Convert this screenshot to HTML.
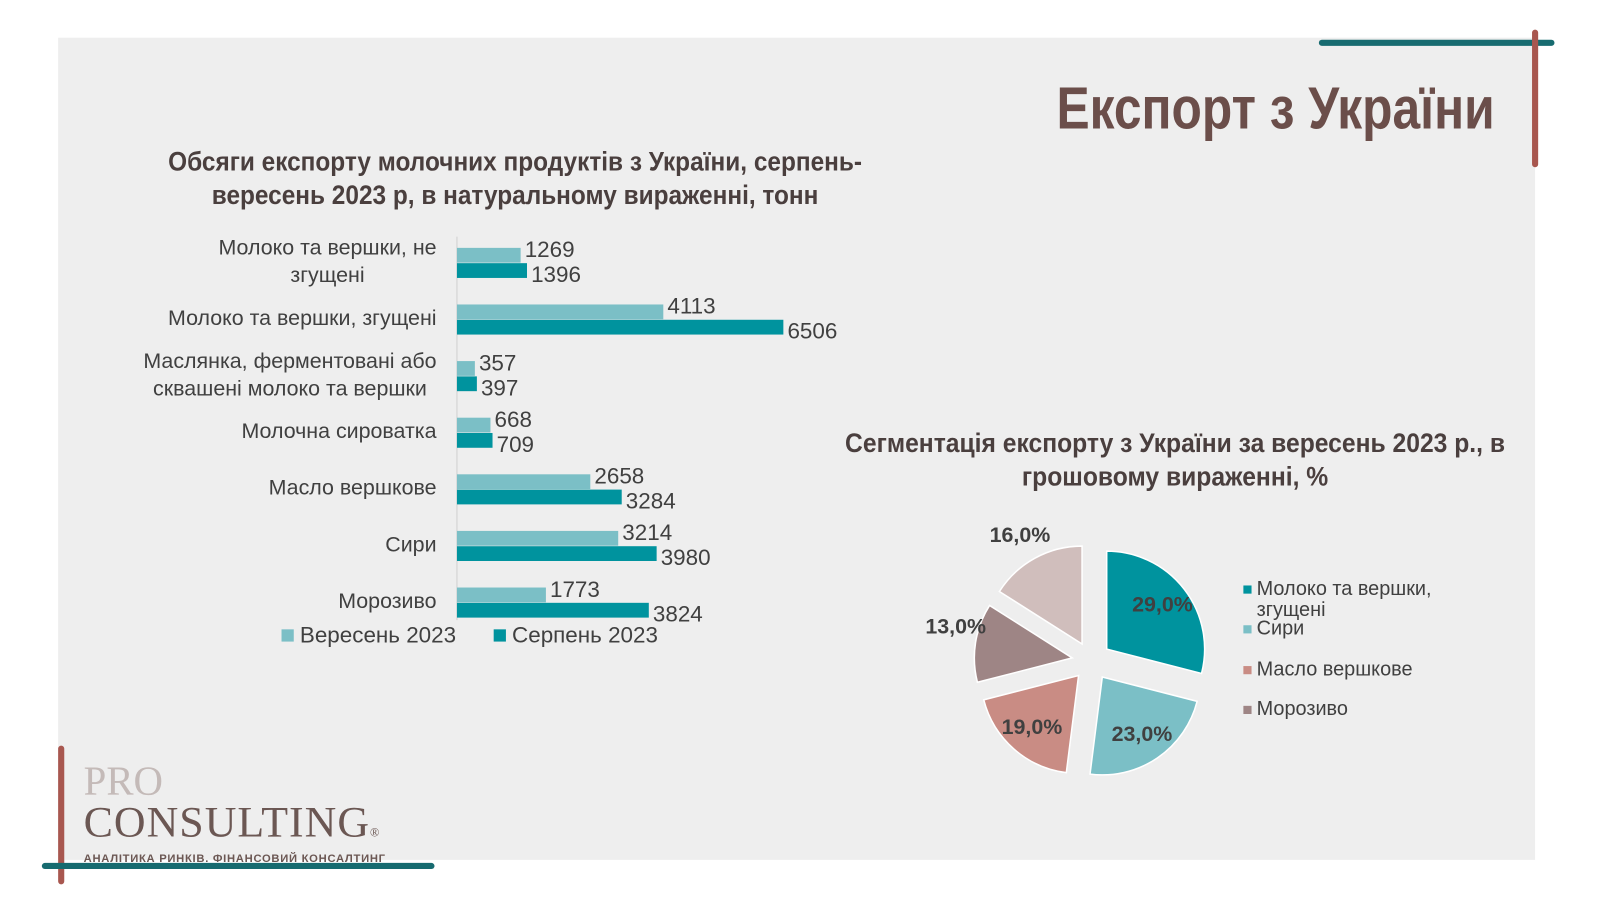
<!DOCTYPE html>
<html><head><meta charset="utf-8"><style>
body{margin:0;width:1600px;height:900px;background:#fff;position:relative;overflow:hidden;font-family:"Liberation Sans",sans-serif}
#wrap{position:absolute;left:0;top:0;width:1600px;height:900px;transform:scale(1.02);transform-origin:0 0}
.abs{position:absolute}
.cond{font-family:"Liberation Sans Narrow","Liberation Sans",sans-serif;font-weight:bold}
</style></head><body>
<div id="wrap">
<div class="abs" style="left:57px;top:37px;width:1448px;height:806px;background:#eeeeee"></div>
<div class="abs" style="left:1293px;top:39px;width:231px;height:6px;background:#176b70;border-radius:3px"></div>
<div class="abs" style="left:1502px;top:29px;width:6px;height:135px;background:#a8574f;border-radius:3px"></div>
<div class="abs" style="left:57px;top:731px;width:6px;height:136px;background:#a8574f;border-radius:3px"></div>
<div class="abs" style="left:41px;top:846px;width:385px;height:6px;background:#176b70;border-radius:3px"></div>
<div class="abs cond" style="right:135px;top:74px;font-size:58px;color:#6b4e4a;line-height:66px;transform:scaleX(0.84);transform-origin:right center;white-space:nowrap">Експорт з України</div>

<div class="abs cond" style="left:105px;top:142px;width:800px;text-align:center;font-size:26px;line-height:33px;color:#4a3f3e;transform:scaleX(0.92);transform-origin:center">Обсяги експорту молочних продуктів з України, серпень-<br>вересень 2023 р, в натуральному вираженні, тонн</div>
<div class="abs cond" style="left:802px;top:418px;width:700px;text-align:center;font-size:26px;line-height:33px;color:#4a3f3e;transform:scaleX(0.93);transform-origin:center">Сегментація експорту з України за вересень 2023 р., в<br>грошовому вираженні, %</div>

<svg class="abs" style="left:0;top:0" width="1600" height="900" id="chart"></svg>

<div class="abs" style="left:82px;top:746px">
<div style="font-family:'Liberation Serif',serif;font-size:40px;color:#c4bab8;line-height:40px">PRO</div>
<div style="font-family:'Liberation Serif',serif;font-size:43px;color:#6b5753;line-height:42px;letter-spacing:1px">CONSULTING<span style="font-size:12px">®</span></div>
<div style="font-size:11px;font-weight:bold;color:#6b5753;letter-spacing:0.7px;margin-top:-1px">АНАЛІТИКА РИНКІВ. ФІНАНСОВИЙ КОНСАЛТИНГ</div>
</div>
</div>
<script>
const categories=[["Молоко та вершки, не","згущені"],["Молоко та вершки, згущені"],["Маслянка, ферментовані або","сквашені молоко та вершки"],["Молочна сироватка"],["Масло вершкове"],["Сири"],["Морозиво"]];
const september=[1269,4113,357,668,2658,3214,1773];
const august=[1396,6506,397,709,3284,3980,3824];
const seriesNames=["Вересень 2023","Серпень 2023"];
const pieLabels=["Молоко та вершки, згущені","Сири","Масло вершкове","Морозиво","Інше"];
const pieValues=[29,23,19,13,16];

const svg=document.getElementById('chart');
const NS='http://www.w3.org/2000/svg';
function mk(tag,attrs,txt){const e=document.createElementNS(NS,tag);for(const k in attrs)e.setAttribute(k,attrs[k]);if(txt!==undefined)e.textContent=txt;svg.appendChild(e);return e;}
const x0=448,xMax=6506,xW=320;
const xs=v=>x0+v/xMax*xW;
const gTop=243,gStep=55.5,bh=14.5;
const cS='#7bbfc6',cA='#00939e';
let ax=mk('line',{x1:x0,y1:232,x2:x0,y2:608,stroke:'#d0d0d0'});


categories.forEach((c,i)=>{
 const y=gTop+i*gStep;
 let r1=mk('rect',{x:x0,y:y,width:xs(september[i])-x0,height:bh,fill:cS});
 
 
 let r2=mk('rect',{x:x0,y:y+bh+0.5,width:xs(august[i])-x0,height:bh,fill:cA});
 
 
 let t1=mk('text',{x:xs(september[i])+4,y:y+bh/2-4,'font-size':22,fill:'#404040','dominant-baseline':'middle'},september[i]);
 
 
 let t2=mk('text',{x:xs(august[i])+4,y:y+bh*1.5+6,'font-size':22,fill:'#404040','dominant-baseline':'middle'},august[i]);
 
 
 const cy=y+bh;
 const els=c.map((ln,j)=>{
  let t=mk('text',{x:428,y:cy+(j-(c.length-1)/2)*27,'font-size':21,fill:'#404040','text-anchor':'middle','dominant-baseline':'middle'},ln);
  
  
  return t;
 });
 const w=Math.max(...els.map(e=>e.getComputedTextLength()));
 els.forEach(e=>e.setAttribute('x',428-w/2));
});
[[276,cS],[484,cA]].forEach((p,i)=>{
 let s=mk('rect',{x:p[0],y:617,width:12,height:12,fill:p[1]});
 
 
 let t=mk('text',{x:p[0]+18,y:624,'font-size':22,fill:'#404040','dominant-baseline':'middle'},seriesNames[i]);
 
 
});
// pie
const pcx=1070,pcy=648,R=96,D=19;
const pColors=['#00939e','#7bbfc6','#c98c84','#9e8585','#d0bebc'];
const total=pieValues.reduce((a,b)=>a+b,0);
let a=0;
pieValues.forEach((v,i)=>{
 const a0=a,a1=a+v/total*2*Math.PI;a=a1;
 const m=(a0+a1)/2;
 const cx=pcx+D*Math.sin(m),cy=pcy-D*Math.cos(m);
 const p=(ang,r)=>[cx+r*Math.sin(ang),cy-r*Math.cos(ang)];
 const s=p(a0,R),e=p(a1,R);
 let path=mk('path',{d:`M${cx},${cy}L${s[0]},${s[1]}A${R},${R} 0 ${a1-a0>Math.PI?1:0} 1 ${e[0]},${e[1]}Z`,fill:pColors[i],stroke:'#fff','stroke-width':1.5});
 
 
 const inside=v>=19;
 const lr=inside?R*0.72:R*1.1;
 const lp=[pcx+(lr+D)*Math.sin(m),pcy-(lr+D)*Math.cos(m)];
 if(!inside){lp[0]-=10;lp[1]-=13;}
 let t=mk('text',{x:lp[0],y:lp[1],'font-size':21,'font-weight':'bold',fill:'#404040','text-anchor':'middle','dominant-baseline':'middle'},v.toFixed(1).replace('.',',')+'%');
 
 
});
const legRows=[[578,["Молоко та вершки,","згущені"]],[617,["Сири"]],[657,["Масло вершкове"]],[696,["Морозиво"]]];
legRows.forEach((r,i)=>{
 let s=mk('rect',{x:1219,y:r[0]-4,width:8,height:8,fill:pColors[i]});
 
 
 r[1].forEach((ln,j)=>{
  let t=mk('text',{x:1232,y:r[0]+j*21,'font-size':19.5,fill:'#404040','dominant-baseline':'middle'},ln);
  
  
 });
});
</script>
</body></html>
